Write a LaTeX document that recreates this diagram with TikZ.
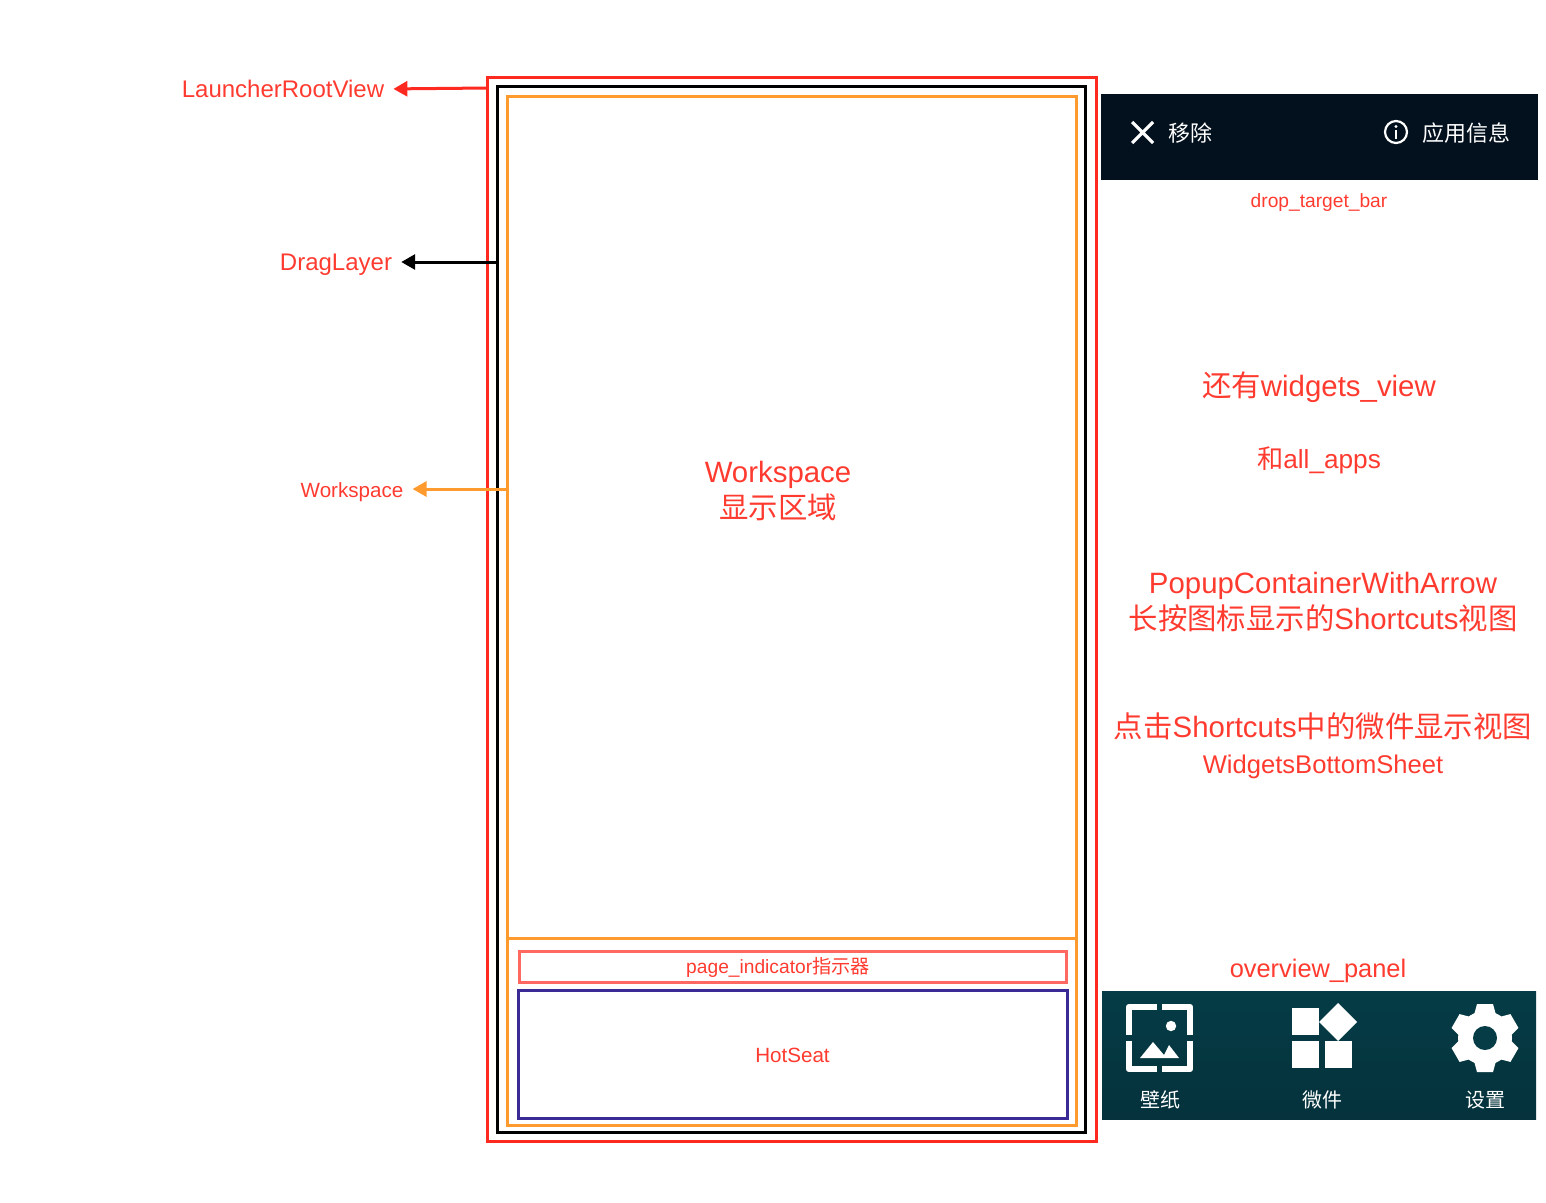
\documentclass[tikz,border=0pt]{standalone}
\usepackage{fontspec}
\setmainfont{Liberation Sans}
\newfontfamily\cjk{Noto Sans CJK SC}
\usepackage{tikz}
\usetikzlibrary{arrows.meta}
\definecolor{labelred}{RGB}{255,59,48}
\definecolor{rootred}{RGB}{255,42,31}
\definecolor{wsorange}{RGB}{255,154,46}
\definecolor{pagered}{RGB}{255,105,97}
\definecolor{seatblue}{RGB}{58,42,150}
\definecolor{dropdark}{RGB}{3,16,30}
\definecolor{paneltop}{RGB}{5,60,70}
\definecolor{panelbot}{RGB}{5,50,60}

\begin{document}
\begin{tikzpicture}[
  x=1pt,y=-1pt,
  region/.style={draw,line width=3pt,outer sep=0pt,inner sep=0pt},
  panel/.style={inner sep=0pt,outer sep=0pt},
  tag/.style={text=labelred,inner sep=0pt,align=center},
  big/.style={tag,font=\fontsize{29.4}{36}\selectfont},
  mid/.style={tag,font=\fontsize{24}{28}\selectfont},
  small/.style={tag,font=\fontsize{20.6}{24}\selectfont},
  tiny/.style={tag,font=\fontsize{19.2}{22}\selectfont},
  wtext/.style={text=white,inner sep=0pt,font=\cjk\fontsize{20}{24}\selectfont},
  pointer/.style={-{Triangle[length=14pt,width=15pt]},line width=3pt,shorten >=9pt}
]
\useasboundingbox (0,0) rectangle (1546,1202);

% nested frames
\node[region,rootred,minimum width=609pt,minimum height=1064pt] (root) at (791.5,609) {};
\node[region,black,minimum width=588pt,minimum height=1046pt] (drag) at (791,609) {};
\node[region,wsorange,minimum width=569pt,minimum height=842pt] (wsarea) at (791.5,517) {};
\node[region,wsorange,minimum width=569pt,minimum height=187pt] (dockarea) at (791.5,1031.5) {};
\node[region,pagered,minimum width=547pt,minimum height=31pt] (indicator) at (792.5,966.5) {};
\node[region,seatblue,minimum width=549pt,minimum height=128pt] (hotseat) at (792.5,1054) {};

% labels on the left
\node[mid]   (rootlabel) at (283,89)  {LauncherRootView};
\node[mid]   (draglabel) at (336,265) {DragLayer};
\node[small] (wslabel)   at (352,492) {Workspace};
\node[big]   (wstext)    at (778,491) {Workspace\\{\cjk 显示区域}};
\node[tiny]  (pagelabel) at (778,967) {page\_indicator{\cjk 指示器}};
\node[small] (seatlabel) at (792.5,1055) {HotSeat};

\coordinate (rootport) at (488,88);
\coordinate (dragport) at (497,262);
\coordinate (wsport)   at (507,489);
\draw[pointer,rootred] (rootport) -- (rootlabel.east);
\draw[pointer,black] (dragport) -- (draglabel.east |- dragport);
\draw[pointer,wsorange] (wsport) -- (wslabel.east |- wsport);

% drop target bar
\node[panel,fill=dropdark,minimum width=437pt,minimum height=86pt] (dropbar) at (1319.5,137) {};
\draw[white,line width=3.2pt] (1132,122) -- (1153,143) (1153,122) -- (1132,143);
\node[wtext,font=\cjk\fontsize{22}{24}\selectfont] (remove) at (1190,133) {移除};
\draw[white,line width=2.2pt] (1396,132) circle (11);
\fill[white] (1396,126.5) circle (1.6);
\draw[white,line width=2.2pt] (1396,130) -- (1396,138.5);
\node[wtext,font=\cjk\fontsize{22}{24}\selectfont] (appinfo) at (1466,133) {应用信息};
\node[tiny] (droplabel) at (1319,203) {drop\_target\_bar};

% text on the right
\node[big] (widgetsview) at (1319,387) {{\cjk 还有}widgets\_view};
\node[big,font=\fontsize{26.2}{30}\selectfont] (allapps) at (1319,460) {{\cjk 和}all\_apps};
\node[big] (popup) at (1323,602) {PopupContainerWithArrow\\{\cjk 长按图标显示的}Shortcuts{\cjk 视图}};
\node[big] (clicktext) at (1323,726) {{\cjk 点击}Shortcuts{\cjk 中的微件显示视图}};
\node[mid,font=\fontsize{25.6}{30}\selectfont] (sheet) at (1323,767) {WidgetsBottomSheet};
\node[mid,font=\fontsize{25.4}{30}\selectfont] (panellabel) at (1318,971) {overview\_panel};

% overview panel
\node[panel,top color=paneltop,bottom color=panelbot,minimum width=434pt,minimum height=128pt] (overview) at (1319,1055) {};
\draw[white,line width=6.5pt,line join=round]
  (1157,1007) -- (1129,1007) -- (1129,1035)
  (1162,1007) -- (1190,1007) -- (1190,1035)
  (1129,1041) -- (1129,1069) -- (1157,1069)
  (1190,1041) -- (1190,1069) -- (1162,1069);
\fill[white] (1171,1026) circle (5.2);
\fill[white] (1140,1058) -- (1153,1042) -- (1164,1055) -- (1169,1045) -- (1179,1058) -- cycle;
\fill[white] (1292,1008) rectangle (1319,1035);
\fill[white] (1292,1041) rectangle (1319,1068);
\fill[white] (1325,1041) rectangle (1352,1068);
\fill[white] (1338,1003) -- (1357,1022) -- (1338,1041) -- (1319,1022) -- cycle;
\fill[white] (1485,1038) circle (27);
\foreach \a in {0,60,...,300}
  \fill[white,rotate around={\a:(1485,1038)}] (1474,1015) -- (1477,1004) -- (1493,1004) -- (1496,1015) -- cycle;
\fill[paneltop] (1485,1038) circle (12);
\node[wtext] (wallpaper) at (1160,1100) {壁纸};
\node[wtext] (widgets)   at (1322,1100) {微件};
\node[wtext] (settings)  at (1485,1100) {设置};
\end{tikzpicture}
\end{document}
